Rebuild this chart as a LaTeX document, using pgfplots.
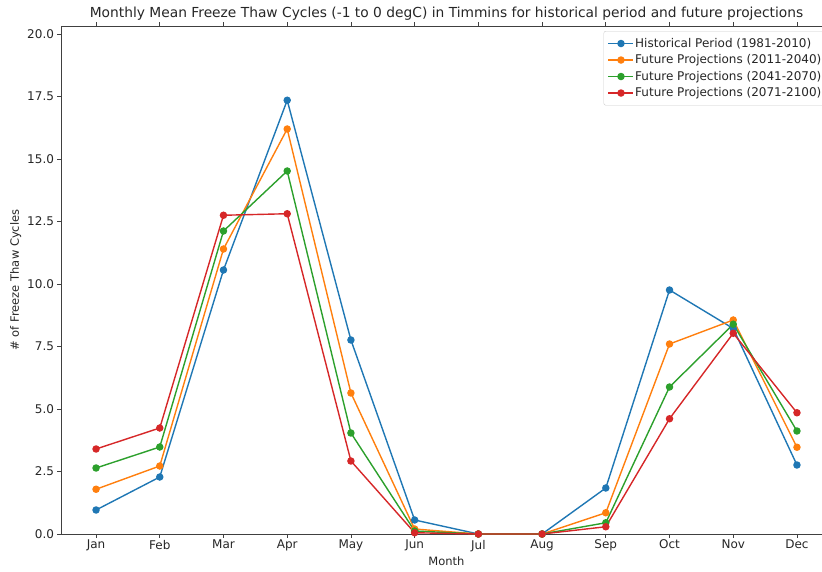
\documentclass[border=0pt]{standalone}
\usepackage{fontspec}
\setmainfont{DejaVu Sans}
\usepackage{pgfplots}
\pgfplotsset{compat=1.18}
\definecolor{tabblue}{HTML}{1F77B4}
\definecolor{taborange}{HTML}{FF7F0E}
\definecolor{tabgreen}{HTML}{2CA02C}
\definecolor{tabred}{HTML}{D62728}
\begin{document}
\begin{tikzpicture}[x=1pt,y=1pt]
\clip (0,0) rectangle (822,571);
\begin{axis}[
  at={(61pt,37pt)}, anchor=south west,
  scale only axis, width=771pt, height=508pt,
  xmin=-0.55, xmax=11.55, ymin=0, ymax=20.32,
  xtick={0,...,11},
  xticklabels={Jan,Feb,Mar,Apr,May,Jun,Jul,Aug,Sep,Oct,Nov,Dec},
  ytick={0,2.5,...,20},
  yticklabel style={/pgf/number format/.cd,fixed,fixed zerofill,precision=1},
  /pgf/number format/assume math mode=true,
  tick align=outside, tick style={color=black!75, line width=0.8pt},
  major tick length=3.5pt,
  axis line style={black!75, line width=0.8pt},
  ticklabel style={font=\fontsize{12}{14}\selectfont, text=black!85},
  xticklabel style={yshift=1pt},
  xlabel={Month}, ylabel={\# of Freeze Thaw Cycles},
  xlabel style={font=\fontsize{11.5}{13}\selectfont, text=black!85, yshift=2pt},
  ylabel style={font=\fontsize{11.5}{13}\selectfont, text=black!85, yshift=-1pt},
  title={Monthly Mean Freeze Thaw Cycles (-1 to 0 degC) in Timmins for historical period and future projections},
  title style={font=\fontsize{13.8}{16}\selectfont, text=black!85, yshift=-4pt},
  every axis plot/.append style={line width=1.4pt, mark=*, mark size=3pt},
  legend image code/.code={\draw[mark repeat=2,mark phase=2] plot coordinates {(0pt,0pt) (12.5pt,0pt) (25pt,0pt)};},
  legend style={at={(rel axis cs:0.993,0.99)}, anchor=north east,
    font=\fontsize{12}{14}\selectfont, draw=black!20, rounded corners=2pt,
    row sep=0pt, inner sep=4pt, text=black!85,
    nodes={inner sep=1pt, text depth=3.5pt, text height=11pt}},
  legend cell align=left,
]
\addplot[color=tabblue] coordinates {(0,0.96) (1,2.28) (2,10.56) (3,17.35) (4,7.76) (5,0.56) (6,0) (7,0) (8,1.84) (9,9.76) (10,8.22) (11,2.76)};
\addlegendentry{Historical Period (1981-2010)}
\addplot[color=taborange] coordinates {(0,1.79) (1,2.72) (2,11.4) (3,16.2) (4,5.64) (5,0.2) (6,0) (7,0) (8,0.85) (9,7.6) (10,8.56) (11,3.47)};
\addlegendentry{Future Projections (2011-2040)}
\addplot[color=tabgreen] coordinates {(0,2.64) (1,3.48) (2,12.12) (3,14.52) (4,4.04) (5,0.12) (6,0) (7,0) (8,0.45) (9,5.88) (10,8.39) (11,4.12)};
\addlegendentry{Future Projections (2041-2070)}
\addplot[color=tabred] coordinates {(0,3.4) (1,4.24) (2,12.75) (3,12.81) (4,2.92) (5,0.05) (6,0) (7,0) (8,0.29) (9,4.61) (10,8.03) (11,4.85)};
\addlegendentry{Future Projections (2071-2100)}
\end{axis}
\end{tikzpicture}
\end{document}
